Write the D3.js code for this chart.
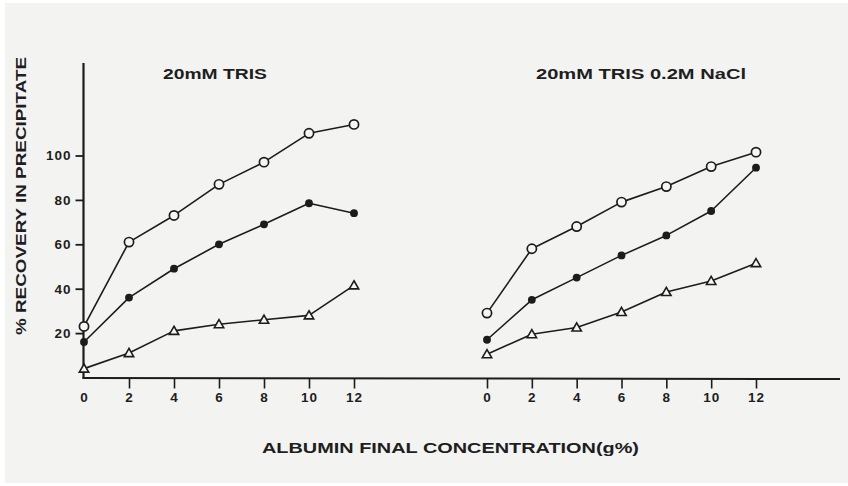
<!DOCTYPE html>
<html>
<head>
<meta charset="utf-8">
<script src="https://cdn.jsdelivr.net/npm/d3@7"></script>
<style>
  html, body { margin: 0; padding: 0; background: #ffffff; }
  svg { display: block; }
  text { font-family: "Liberation Sans", Arial, sans-serif; font-weight: bold; fill: #1e1e1e; }
</style>
</head>
<body>
<svg id="chart" width="848" height="486"></svg>
<script>
// Albumin concentration (g%) at which recovery was measured
const concentrations = [0, 2, 4, 6, 8, 10, 12];

// % recovery in precipitate, 20mM TRIS
const trisOpen     = [23, 61, 73, 87, 97, 110, 114];
const trisFilled   = [16, 36, 49, 60, 69, 78.5, 74];
const trisTriangle = [4, 11, 21, 24, 26, 28, 41.5];

// % recovery in precipitate, 20mM TRIS 0.2M NaCl
const naclOpen     = [29, 58, 68, 79, 86, 95, 101.5];
const naclFilled   = [17, 35, 45, 55, 64, 75, 94.5];
const naclTriangle = [10.5, 19.5, 22.5, 29.5, 38.5, 43.5, 51.5];

const yTicks = [20, 40, 60, 80, 100];
const xTicks = [0, 2, 4, 6, 8, 10, 12];

const panelTitles = ["20mM TRIS", "20mM TRIS 0.2M NaCl"];
const yTitle = "% RECOVERY IN PRECIPITATE";
const xTitle = "ALBUMIN FINAL CONCENTRATION(g%)";

const ink = "#1c1c1c";
const svg = d3.select("#chart");

// paper
svg.append("rect").attr("x", 5).attr("y", 3).attr("width", 843).attr("height", 480)
  .attr("fill", "#f3f3f2");

const y = d3.scaleLinear().domain([0, 100]).range([377.5, 155.5]);
const xLeft = d3.scaleLinear().domain([0, 12]).range([84, 354]);
const xRight = d3.scaleLinear().domain([0, 12]).range([487, 756]);

// vertical axis
svg.append("line").attr("x1", 83.5).attr("x2", 83.5).attr("y1", 63).attr("y2", y(0) + 1)
  .attr("stroke", ink).attr("stroke-width", 2.2);
const yAxis = svg.append("g").attr("transform", "translate(83.5,0)")
  .call(d3.axisLeft(y).tickValues(yTicks).tickSize(8).tickPadding(4).tickFormat(d3.format("d")));
yAxis.select(".domain").remove();
yAxis.selectAll(".tick line").attr("stroke", ink).attr("stroke-width", 1.8);
yAxis.selectAll(".tick text").attr("font-size", 13.5).attr("font-family", "Liberation Sans, Arial, sans-serif")
  .attr("font-weight", "bold").attr("fill", ink).attr("letter-spacing", 1);

// horizontal axis, shared by both panels
svg.append("line").attr("x1", 82.5).attr("x2", 840).attr("y1", y(0) + 0.5).attr("y2", y(0) + 1.5)
  .attr("stroke", ink).attr("stroke-width", 2);

function drawXAxis(x, skipZeroTick) {
  const g = svg.append("g").attr("transform", `translate(0,${y(0) + 1})`)
    .call(d3.axisBottom(x).tickValues(xTicks).tickSize(10).tickPadding(3).tickFormat(d3.format("d")));
  g.select(".domain").remove();
  g.selectAll(".tick line").attr("stroke", ink).attr("stroke-width", 1.6)
    .attr("display", d => (skipZeroTick && d === 0) ? "none" : null);
  g.selectAll(".tick text").attr("font-size", 13.5).attr("font-family", "Liberation Sans, Arial, sans-serif")
    .attr("font-weight", "bold").attr("fill", ink).attr("letter-spacing", 1)
    .attr("dy", "0.75em");
}
drawXAxis(xLeft, true);
drawXAxis(xRight, false);

// series lines and markers
const line = x => d3.line().x((d, i) => x(concentrations[i])).y(d => y(d));

function drawSeries(x, values, marker) {
  svg.append("path").datum(values).attr("d", line(x)).attr("fill", "none")
    .attr("stroke", ink).attr("stroke-width", 1.6).attr("stroke-linejoin", "round");
  const pts = svg.append("g").selectAll("g").data(values).join("g")
    .attr("transform", (d, i) => `translate(${x(concentrations[i])},${y(d)})`);
  if (marker === "open") {
    pts.append("circle").attr("r", 4.6).attr("fill", "#f6f6f5").attr("stroke", ink).attr("stroke-width", 1.7);
  } else if (marker === "filled") {
    pts.append("circle").attr("r", 3.9).attr("fill", ink);
  } else {
    pts.append("path").attr("d", d3.symbol(d3.symbolTriangle, 38)())
      .attr("transform", "translate(0,0.8)")
      .attr("fill", "#f6f6f5").attr("stroke", ink).attr("stroke-width", 1.6);
  }
}
drawSeries(xLeft, trisTriangle, "triangle");
drawSeries(xLeft, trisFilled, "filled");
drawSeries(xLeft, trisOpen, "open");
drawSeries(xRight, naclTriangle, "triangle");
drawSeries(xRight, naclFilled, "filled");
drawSeries(xRight, naclOpen, "open");

// panel titles
svg.append("text").attr("x", 163).attr("y", 79).attr("font-size", 14)
  .attr("textLength", 104).attr("lengthAdjust", "spacingAndGlyphs").text(panelTitles[0]);
svg.append("text").attr("x", 536).attr("y", 79).attr("font-size", 14)
  .attr("textLength", 210).attr("lengthAdjust", "spacingAndGlyphs").text(panelTitles[1]);

// axis titles
svg.append("text").attr("transform", "translate(25.5,335) rotate(-90)").attr("font-size", 14)
  .attr("textLength", 278).attr("lengthAdjust", "spacingAndGlyphs").text(yTitle);
svg.append("text").attr("x", 262).attr("y", 453).attr("font-size", 14.5)
  .attr("textLength", 377).attr("lengthAdjust", "spacingAndGlyphs").text(xTitle);
</script>
</body>
</html>
